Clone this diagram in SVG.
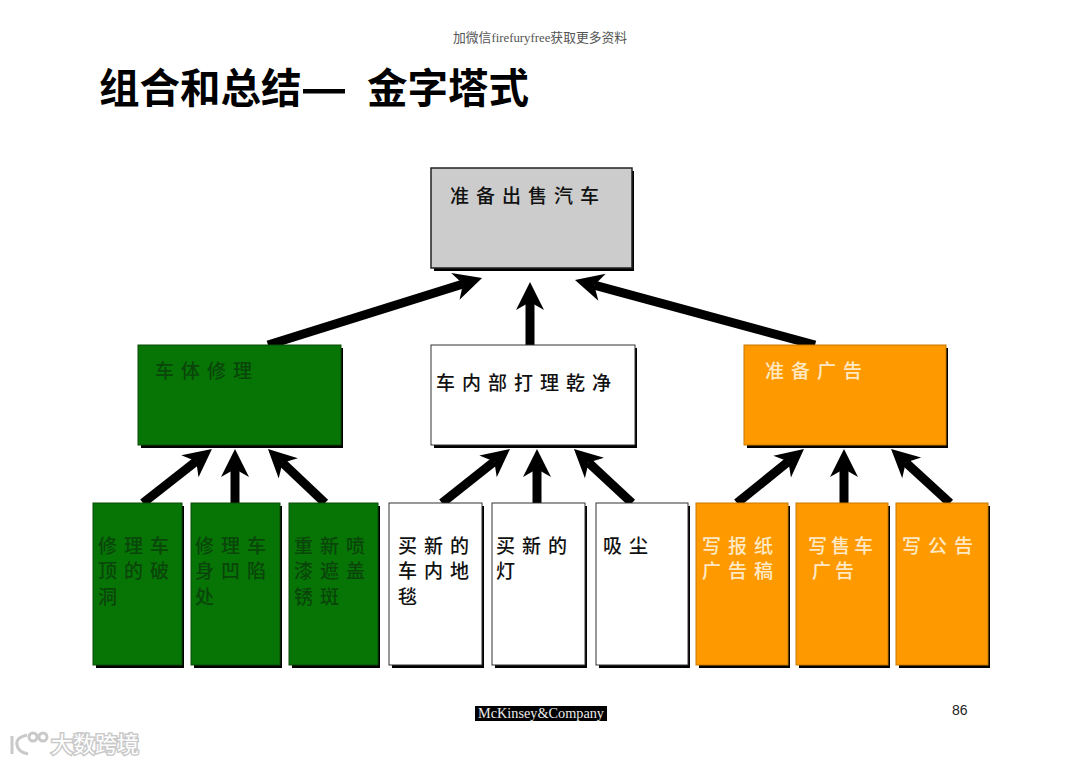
<svg xmlns="http://www.w3.org/2000/svg" width="1080" height="764" viewBox="0 0 1080 764">
<style>
text{font-family:"Noto Sans CJK SC","Noto Sans",sans-serif}
.shadow{fill:#000}
.g{fill:#067506;stroke:#0a4a0a;stroke-width:1}
.w{fill:#fff;stroke:#333;stroke-width:1}
.o{fill:#ff9900;stroke:#c87800;stroke-width:1}
.k{fill:#cccccc;stroke:#222;stroke-width:1.5}
.t{font-size:19px;font-weight:500;letter-spacing:7px;fill:#111}
.tg{fill:#0a450a}
.to{fill:#ffe9c4}
.c line{stroke:#000;stroke-width:9;marker-end:url(#h)}
</style>
<defs>
<marker id="h" markerUnits="userSpaceOnUse" markerWidth="60" markerHeight="40" viewBox="-20 -20 60 40" refX="0" refY="0" orient="auto" overflow="visible">
<path d="M20 0L-8 -14L0 0L-8 14Z" fill="#000"/>
</marker>
</defs>
<rect width="1080" height="764" fill="#fff"/>
<text x="453" y="42" font-size="12.8" fill="#555" style="font-family:'Liberation Serif','Noto Sans CJK SC',serif">加微信firefuryfree获取更多资料</text>
<text x="99" y="103" font-size="40.5" font-weight="700" fill="#000">组合和总结</text>
<rect x="303" y="89" width="42" height="4.5" fill="#000"/>
<text x="367" y="103" font-size="40.5" font-weight="700" fill="#000">金字塔式</text>

<g id="connectors" class="c">
<line x1="268" y1="345" x2="463" y2="284"/>
<line x1="530" y1="345" x2="530" y2="302"/>
<line x1="815" y1="345" x2="594.3" y2="285.2"/>
<line x1="143" y1="503" x2="196.2" y2="461.3"/>
<line x1="235" y1="503" x2="235" y2="469"/>
<line x1="325" y1="503" x2="282.5" y2="462.8"/>
<line x1="442" y1="503" x2="494.3" y2="461.4"/>
<line x1="537" y1="503" x2="537" y2="469"/>
<line x1="632" y1="503" x2="588.6" y2="462.6"/>
<line x1="737" y1="503" x2="788.4" y2="461.6"/>
<line x1="844" y1="503" x2="844" y2="469"/>
<line x1="950" y1="503" x2="905.8" y2="462.5"/>
</g>

<g id="top"><rect class="shadow" x="434" y="171" width="200" height="100"/><rect class="k" x="431" y="168" width="201" height="100"/><text class="t" x="450" y="203">准备出售汽车</text></g>

<g id="mid1"><rect class="shadow" x="141" y="348" width="202" height="100"/><rect class="g" x="138" y="345" width="203" height="100"/><text class="t tg" x="155" y="378">车体修理</text></g>
<g id="mid2"><rect class="shadow" x="434" y="348" width="203" height="100"/><rect class="w" x="431" y="345" width="204" height="100"/><text class="t" x="436" y="390">车内部打理乾净</text></g>
<g id="mid3"><rect class="shadow" x="747" y="348" width="201" height="100"/><rect class="o" x="744" y="345" width="202" height="100"/><text class="t to" x="765" y="378">准备广告</text></g>

<g id="b1"><rect class="shadow" x="96" y="506" width="88" height="162"/><rect class="g" x="93" y="503" width="89" height="162"/><text class="t tg" x="98" y="553">修理车</text><text class="t tg" x="98" y="578">顶的破</text><text class="t tg" x="98" y="604">洞</text></g>
<g id="b2"><rect class="shadow" x="194" y="506" width="88" height="162"/><rect class="g" x="191" y="503" width="89" height="162"/><text class="t tg" x="195" y="553">修理车</text><text class="t tg" x="195" y="578">身凹陷</text><text class="t tg" x="195" y="604">处</text></g>
<g id="b3"><rect class="shadow" x="292" y="506" width="88" height="162"/><rect class="g" x="289" y="503" width="89" height="162"/><text class="t tg" x="294" y="553">重新喷</text><text class="t tg" x="294" y="578">漆遮盖</text><text class="t tg" x="294" y="604">锈斑</text></g>
<g id="b4"><rect class="shadow" x="392" y="506" width="92" height="162"/><rect class="w" x="389" y="503" width="93" height="162"/><text class="t" x="398" y="553">买新的</text><text class="t" x="398" y="578">车内地</text><text class="t" x="398" y="604">毯</text></g>
<g id="b5"><rect class="shadow" x="495" y="506" width="92" height="162"/><rect class="w" x="492" y="503" width="93" height="162"/><text class="t" x="496" y="553">买新的</text><text class="t" x="496" y="578">灯</text></g>
<g id="b6"><rect class="shadow" x="599" y="506" width="91" height="162"/><rect class="w" x="596" y="503" width="92" height="162"/><text class="t" x="603" y="553">吸尘</text></g>
<g id="b7"><rect class="shadow" x="699" y="506" width="91" height="162"/><rect class="o" x="696" y="503" width="92" height="162"/><text class="t to" x="702" y="553">写报纸</text><text class="t to" x="702" y="578">广告稿</text></g>
<g id="b8"><rect class="shadow" x="799" y="506" width="91" height="162"/><rect class="o" x="796" y="503" width="92" height="162"/><text class="t to" x="808" y="553" style="letter-spacing:4px">写售车</text><text class="t to" x="812" y="578" style="letter-spacing:4px">广告</text></g>
<g id="b9"><rect class="shadow" x="899" y="506" width="91" height="162"/><rect class="o" x="896" y="503" width="92" height="162"/><text class="t to" x="902" y="553">写公告</text></g>

<g id="footer">
<rect x="475" y="706" width="132" height="15" fill="#000"/>
<text x="478" y="718" textLength="126" lengthAdjust="spacingAndGlyphs" font-size="14" fill="#eee" style="font-family:'Liberation Serif',serif">McKinsey&amp;Company</text>
<text x="952" y="715" font-size="14" fill="#222" style="font-family:'Liberation Sans',Arial,sans-serif">86</text>
</g>
<g id="watermark" fill="none" stroke="#c4c4c4" stroke-width="3" opacity=".9">
<path d="M12 736V754"/>
<path d="M27 735Q15 738 17 745Q18 752 28 754" stroke-width="3"/>
<circle cx="33" cy="737" r="4"/><circle cx="43" cy="737" r="4"/>
<text x="51" y="752" font-size="22" stroke-width="3" paint-order="stroke" fill="#fff">大数跨境</text>
</g>
</svg>
